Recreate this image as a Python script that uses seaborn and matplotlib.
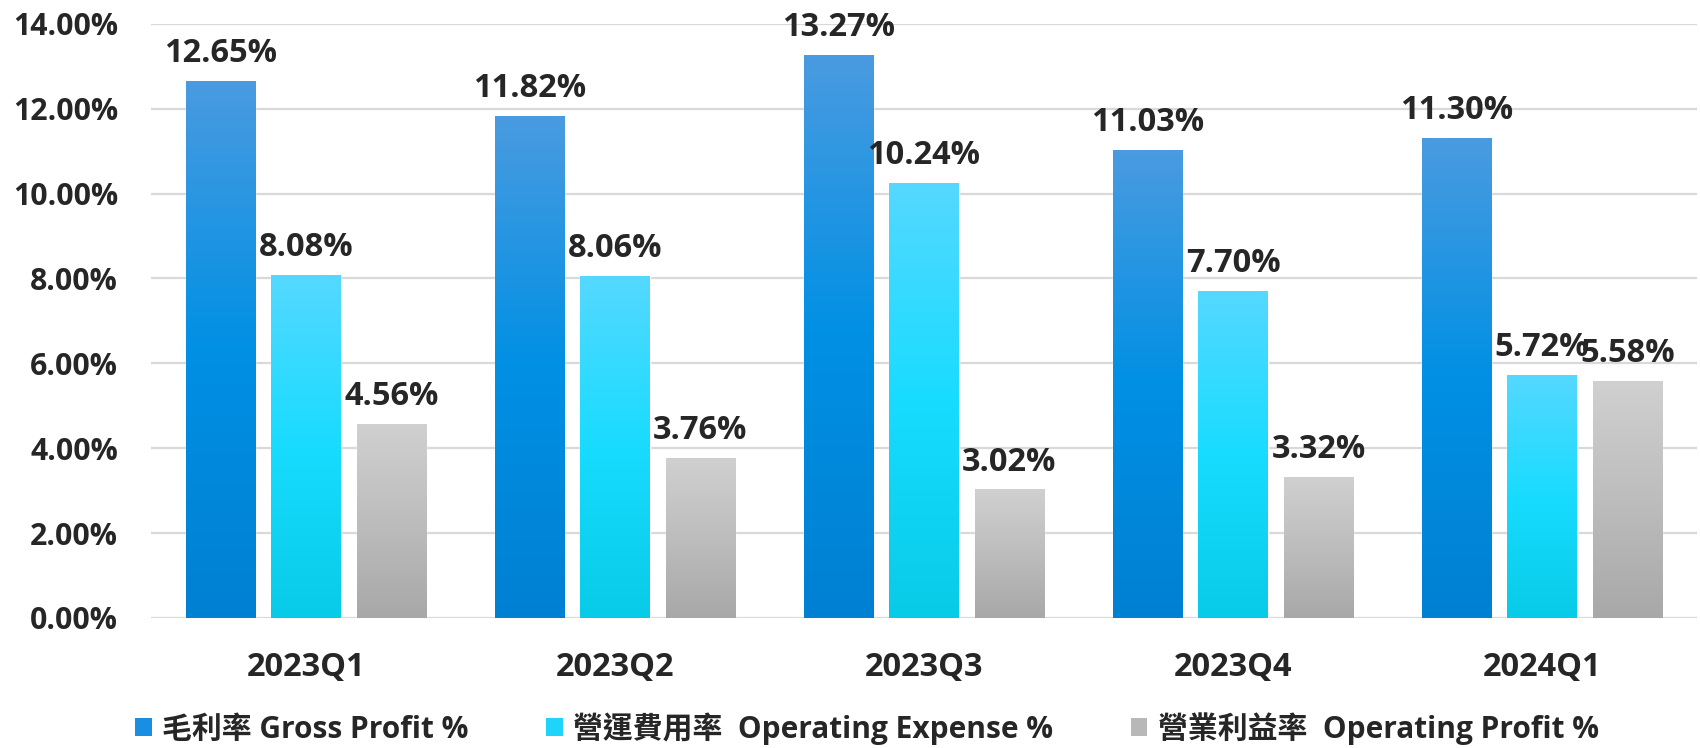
import numpy as np
import pandas as pd
import seaborn as sns
import matplotlib.pyplot as plt
from matplotlib.colors import LinearSegmentedColormap
from matplotlib.patches import Patch
from matplotlib.ticker import FuncFormatter

quarters = ["2023Q1", "2023Q2", "2023Q3", "2023Q4", "2024Q1"]
gross_profit = [12.65, 11.82, 13.27, 11.03, 11.30]
operating_expense = [8.08, 8.06, 10.24, 7.70, 5.72]
operating_profit = [4.56, 3.76, 3.02, 3.32, 5.58]
series_names = ["毛利率 Gross Profit %", "營運費用率  Operating Expense %", "營業利益率  Operating Profit %"]

# gradient stops: bottom, middle, top
grad_colors = [
    ["#0080d2", "#0090e4", "#4a9be0"],
    ["#08cbe8", "#18dcff", "#55d8ff"],
    ["#a8a8a8", "#bdbdbd", "#d0d0d0"],
]
legend_colors = ["#1a8ee0", "#1fd3fa", "#b8b8b8"]

sns.set_theme(style="white")
plt.rcParams['font.family'] = ['Open Sans', 'Noto Sans CJK TC', 'DejaVu Sans']
plt.rcParams['font.weight'] = 'bold'
text_color = "#262626"

rows = []
for name, vals in zip(series_names, [gross_profit, operating_expense, operating_profit]):
    for q, v in zip(quarters, vals):
        rows.append({"Quarter": q, "value": v, "Series": name})
df = pd.DataFrame(rows)

fig, ax = plt.subplots(figsize=(17, 7.48), dpi=100)
fig.subplots_adjust(left=0.089, right=0.998, top=0.968, bottom=0.174)

palette = dict(zip(series_names, legend_colors))
sns.barplot(data=df, x="Quarter", y="value", hue="Series", palette=palette,
            width=0.83, gap=0.19, ax=ax, legend=False, saturation=1)

grad = np.linspace(1, 0, 256).reshape(-1, 1)
for container, cols in zip(ax.containers, grad_colors):
    cmap = LinearSegmentedColormap.from_list("g", cols)
    for bar in container:
        x0, y0 = bar.get_x(), bar.get_y()
        w, h = bar.get_width(), bar.get_height()
        ax.imshow(grad, extent=[x0, x0 + w, y0, y0 + h], aspect='auto',
                  cmap=cmap, vmin=0, vmax=1, zorder=bar.get_zorder() + 0.1)
        ax.annotate(f"{h:.2f}%", (x0 + w / 2, y0 + h), xytext=(0, 8),
                    textcoords="offset points", ha="center", va="bottom",
                    fontsize=23.5, fontweight="bold", color=text_color)

ax.set_xlim(-0.5, 4.5)
ax.set_ylim(0, 14)
ax.set_yticks(np.arange(0, 15, 2))
ax.yaxis.set_major_formatter(FuncFormatter(lambda v, p: f"{v:.2f}%"))
ax.yaxis.grid(True, color="#d9d9d9", lw=1.6)
ax.set_axisbelow(True)
sns.despine(ax=ax, left=True, bottom=True)
ax.tick_params(axis="both", length=0, labelcolor=text_color)
ax.tick_params(axis="x", pad=24, labelsize=23.5)
ax.tick_params(axis="y", pad=24, labelsize=21.8)
for lab in ax.get_xticklabels() + ax.get_yticklabels():
    lab.set_fontweight("bold")
ax.set_xlabel("")
ax.set_ylabel("")

handles = [Patch(facecolor=c, edgecolor="none") for c in legend_colors]
fig.legend(handles, series_names, loc="center", bbox_to_anchor=(0.51, 0.026),
           ncol=3, frameon=False, handlelength=0.55, handleheight=0.55,
           handletextpad=0.35, columnspacing=2.6, labelcolor=text_color,
           prop={'weight': 'bold', 'size': 21.5})

plt.savefig("out.png", dpi=100)
